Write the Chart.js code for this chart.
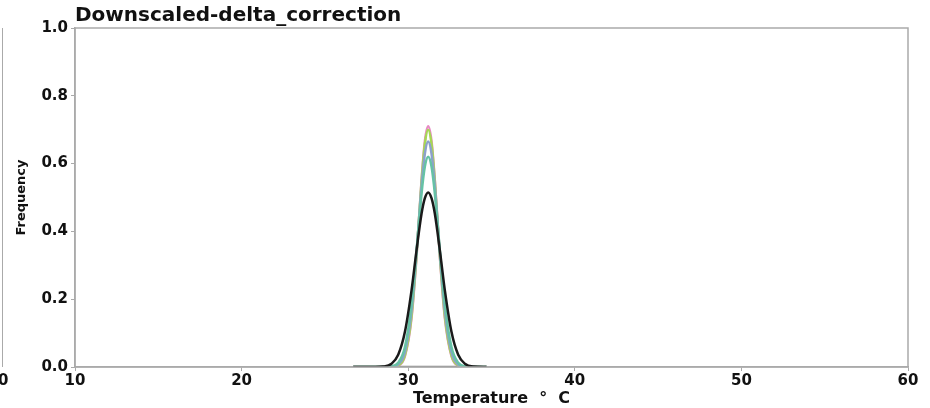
<!DOCTYPE html>
<html>
<head>
<meta charset="utf-8">
<script src="https://cdn.jsdelivr.net/npm/chart.js@4"></script>
<style>
  html, body { margin: 0; padding: 0; background: #fff; }
  #wrap { position: relative; width: 930px; height: 408px; }
  #edge { position: absolute; left: 2px; top: 28px; width: 0; height: 339px; border-left: 1.5px solid #aaa; }
  #edge0 { position: absolute; left: -2px; top: 371px; font: bold 15px "DejaVu Sans"; color: #111; }
</style>
</head>
<body>
<div id="wrap">
  <canvas id="myChart" width="930" height="408"></canvas>
  <div id="edge"></div>
  <div id="edge0">0</div>
</div>
<script>
    "use strict";

    // temperature grid (deg C)
    var temps = [26.7, 28.0, 28.5, 29.0, 29.4, 29.8, 30.2, 30.5, 30.8, 31.0, 31.2, 31.4, 31.6, 31.9, 32.2, 32.6, 33.0, 33.4, 33.9, 34.7];

    var blackVals  = [0, 0.0001, 0.0013, 0.0096, 0.036, 0.103, 0.226, 0.344, 0.452, 0.498, 0.515, 0.498, 0.452, 0.344, 0.226, 0.103, 0.036, 0.0096, 0.0013, 0];
    var tealVals   = [0, 0, 0.0001, 0.0018, 0.0123, 0.058, 0.185, 0.343, 0.511, 0.591, 0.620, 0.591, 0.511, 0.343, 0.185, 0.058, 0.0123, 0.0018, 0.0001, 0];
    var purpleVals = [0, 0, 0, 0.0008, 0.0074, 0.0437, 0.166, 0.337, 0.533, 0.629, 0.665, 0.629, 0.533, 0.337, 0.166, 0.0437, 0.0074, 0.0008, 0, 0];
    var greenVals  = [0, 0, 0, 0.0004, 0.0048, 0.034, 0.150, 0.329, 0.547, 0.658, 0.700, 0.658, 0.547, 0.329, 0.150, 0.034, 0.0048, 0.0004, 0, 0];
    var pinkVals   = [0, 0, 0, 0.0003, 0.004, 0.031, 0.144, 0.325, 0.550, 0.666, 0.710, 0.666, 0.550, 0.325, 0.144, 0.031, 0.004, 0.0003, 0, 0];
    var baseVals   = [0, 0, 0, 0, 0, 0, 0, 0, 0, 0, 0, 0, 0, 0, 0, 0, 0, 0, 0, 0];

    var xTicks = [10, 20, 30, 40, 50, 60];
    var yTicks = [0.0, 0.2, 0.4, 0.6, 0.8, 1.0];

    function pts(vals) {
        return temps.map(function (t, i) { return { x: t, y: vals[i] }; });
    }

    function line(label, vals, color) {
        return {
            label: label,
            data: pts(vals),
            borderColor: color,
            borderWidth: 2.5,
            pointRadius: 0,
            fill: false,
            cubicInterpolationMode: 'monotone'
        };
    }

    // outer box (top + right spines)
    var frame = {
        id: 'frame',
        afterDatasetsDraw: function (chart) {
            var a = chart.chartArea, c = chart.ctx;
            c.save();
            c.strokeStyle = '#aaa';
            c.lineWidth = 1.5;
            c.strokeRect(a.left, a.top, a.right - a.left, a.bottom - a.top);
            c.restore();
        }
    };

    var tickFont = { family: 'DejaVu Sans', size: 15, weight: 'bold' };

    var ctx = document.getElementById('myChart').getContext('2d');
    var chart = new Chart(ctx, {
        type: 'line',
        data: {
            datasets: [
                line('black', blackVals, '#1a1a1a'),
                line('teal', tealVals, '#66c2a5'),
                line('purple', purpleVals, '#8da0cb'),
                line('green', greenVals, '#a6d854'),
                line('pink', pinkVals, '#e78ac3'),
                line('base', baseVals, '#888888')
            ]
        },
        plugins: [frame],
        options: {
            responsive: false,
            animation: false,
            layout: { padding: { left: 0, right: 22, top: 0, bottom: 0 } },
            plugins: {
                legend: { display: false },
                tooltip: { enabled: false },
                title: {
                    display: true,
                    text: 'Downscaled-delta_correction',
                    align: 'start',
                    fullSize: false,
                    color: '#111',
                    font: { family: 'DejaVu Sans', size: 20, weight: 'bold' },
                    padding: { top: 4, bottom: 0 }
                }
            },
            scales: {
                x: {
                    type: 'linear',
                    min: 10,
                    max: 60,
                    afterBuildTicks: function (s) { s.ticks = xTicks.map(function (v) { return { value: v }; }); },
                    afterFit: function (s) { s.height = 41; },
                    grid: { drawOnChartArea: false, drawTicks: true, tickLength: 4, color: '#aaa' },
                    border: { color: '#aaa', width: 1.5 },
                    ticks: { color: '#111', font: tickFont, padding: 1, maxRotation: 0 },
                    title: {
                        display: true,
                        text: 'Temperature  °  C',
                        color: '#111',
                        font: { family: 'DejaVu Sans', size: 16, weight: 'bold' },
                        padding: { top: 0, bottom: 0 }
                    }
                },
                y: {
                    min: 0,
                    max: 1,
                    afterBuildTicks: function (s) { s.ticks = yTicks.map(function (v) { return { value: v }; }); },
                    afterFit: function (s) { s.width = 75; },
                    grid: { drawOnChartArea: false, drawTicks: true, tickLength: 4, color: '#aaa' },
                    border: { color: '#aaa', width: 1.5 },
                    ticks: {
                        color: '#111',
                        font: tickFont,
                        padding: 3,
                        callback: function (v) { return Number(v).toFixed(1); }
                    },
                    title: {
                        display: true,
                        text: 'Frequency',
                        color: '#111',
                        font: { family: 'DejaVu Sans', size: 13, weight: 'bold' },
                        padding: { top: 14, bottom: 0 }
                    }
                }
            }
        }
    });
</script>
</body>
</html>
